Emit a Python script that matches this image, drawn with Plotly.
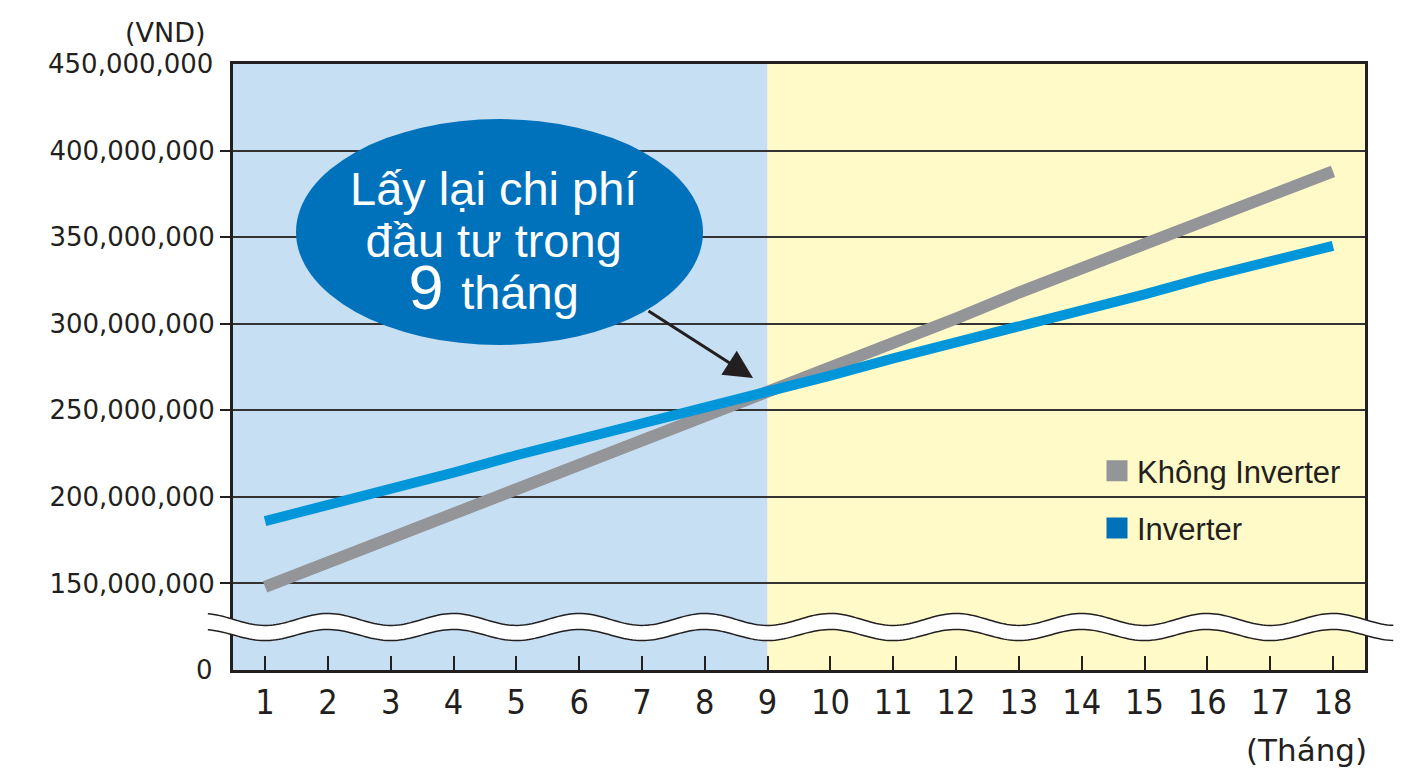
import numpy as np
import plotly.graph_objects as go

# ---------------- data ----------------
months = list(range(1, 19))
khong_inverter = [148e6, 162e6, 176e6, 191e6, 205e6, 219e6, 233e6, 247e6, 261e6,
                  275e6, 289e6, 303e6, 318e6, 332e6, 346e6, 360e6, 374e6, 388e6]
inverter = [186e6, 195e6, 205e6, 214e6, 224e6, 233e6, 242e6, 252e6, 261e6,
            270e6, 280e6, 289e6, 298e6, 308e6, 317e6, 327e6, 336e6, 345e6]
series_names = ["Không Inverter", "Inverter"]
y_tick_vals = [150e6, 200e6, 250e6, 300e6, 350e6, 400e6]
y_tick_text = ["150,000,000", "200,000,000", "250,000,000",
               "300,000,000", "350,000,000", "400,000,000"]
x_tick_text = [str(m) for m in months]
payback_month = 9

# ---------------- style ----------------
GRAY = "#939598"
BLUE_LINE = "#0096d9"
BLUE_DARK = "#0071bb"
BG_BLUE = "#c6dff3"
BG_YELLOW = "#fffac8"
INK = "#231f20"
XR = [0.49, 18.51]
YR = [100e6, 450e6]

# page body has an 8px margin, so the figure is 8px smaller than the window
OFF = 8
W, H = 1411 - OFF, 778 - OFF
ML, MR, MT, MB = 233 - OFF, 46, 64 - OFF, 108
PW, PH = W - ML - MR, H - MT - MB


def paper_x(px_):
    return (px_ - OFF - ML) / PW


def paper_y(py_):
    return (H - MB - (py_ - OFF)) / PH


fig = go.Figure()

fig.add_trace(go.Scatter(x=months, y=khong_inverter, mode="lines",
                         line=dict(color=GRAY, width=12), showlegend=False,
                         name=series_names[0], hoverinfo="skip"))
fig.add_trace(go.Scatter(x=months, y=inverter, mode="lines",
                         line=dict(color=BLUE_LINE, width=10), showlegend=False,
                         name=series_names[1], hoverinfo="skip"))
# legend entries (square swatches)
fig.add_trace(go.Scatter(x=[None], y=[None], mode="markers", name=series_names[0],
                         legendgroup="a",
                         marker=dict(symbol="square", size=16, color=GRAY,
                                     line=dict(color=GRAY, width=5))))
fig.add_trace(go.Scatter(x=[None], y=[None], mode="markers", name=series_names[1],
                         legendgroup="b",
                         marker=dict(symbol="square", size=16, color=BLUE_DARK,
                                     line=dict(color=BLUE_DARK, width=5))))

shapes = [
    dict(type="rect", xref="x", yref="paper", x0=XR[0], x1=payback_month, y0=0, y1=1,
         fillcolor=BG_BLUE, line=dict(width=0), layer="below"),
    dict(type="rect", xref="x", yref="paper", x0=payback_month, x1=XR[1], y0=0, y1=1,
         fillcolor=BG_YELLOW, line=dict(width=0), layer="below"),
    dict(type="circle", xref="x", yref="y", x0=1.493, x1=7.972, y0=287.7e6, y1=418.2e6,
         fillcolor=BLUE_DARK, line=dict(width=0), layer="above"),
]

# axis-break wave (decoration)
wm = np.linspace(0.09, 18.96, 400)


def mx(m):
    return (m - XR[0]) / (XR[1] - XR[0])


up = 129.2e6 + 3.45e6 * np.cos(np.pi * wm)
lo = 120.2e6 + 3.2e6 * np.cos(np.pi * wm)
up_pts = [f"{mx(a):.5f},{b:.0f}" for a, b in zip(wm, up)]
lo_pts = [f"{mx(a):.5f},{b:.0f}" for a, b in zip(wm, lo)]
band = "M" + " L".join(up_pts) + " L" + " L".join(lo_pts[::-1]) + " Z"
shapes.append(dict(type="path", xref="paper", yref="y", path=band,
                   fillcolor="white", line=dict(width=0), layer="above"))
shapes.append(dict(type="path", xref="paper", yref="y", path="M" + " L".join(up_pts),
                   line=dict(color=INK, width=1.5), layer="above"))
shapes.append(dict(type="path", xref="paper", yref="y", path="M" + " L".join(lo_pts),
                   line=dict(color=INK, width=1.5), layer="above"))

TXT = "Liberation Sans, Arial, sans-serif"
WIDE = "DejaVu Sans, Verdana, sans-serif"
callout = ("<span style='font-size:47px'>Lấy lại chi phí</span><br>"
           "<span style='font-size:47px'>đầu tư trong</span><br>"
           "<span style='font-size:63px'>9 </span><span style='font-size:47px'>tháng</span>")
annotations = [
    dict(text=callout, x=4.63, y=347.2e6, xref="x", yref="y", align="center",
         xanchor="center", yanchor="middle",
         showarrow=False, font=dict(family=TXT, size=40, color="white")),
    dict(text="", x=8.768, y=268.6e6, ax=7.08, ay=307.9e6, xref="x", yref="y",
         axref="x", ayref="y", showarrow=True, arrowhead=2, arrowsize=1.9,
         arrowwidth=3, arrowcolor=INK, standoff=0),
    dict(text="0", x=paper_x(215), y=YR[0], xref="paper", yref="y",
         xanchor="right", yanchor="middle", showarrow=False,
         font=dict(family=WIDE, size=26, color=INK)),
    dict(text="450,000,000", x=paper_x(215), y=YR[1], xref="paper", yref="y",
         xanchor="right", yanchor="middle", showarrow=False,
         font=dict(family=WIDE, size=26, color=INK)),
    dict(text="(VND)", x=paper_x(208), y=paper_y(32),
         xref="paper", yref="paper", xanchor="right", yanchor="middle", showarrow=False,
         font=dict(family=WIDE, size=27, color=INK)),
    dict(text="(Tháng)", x=paper_x(1306), y=paper_y(750),
         xref="paper", yref="paper", xanchor="center", yanchor="middle", showarrow=False,
         font=dict(family=WIDE, size=31, color=INK)),
]

fig.update_layout(
    width=W, height=H,
    margin=dict(l=ML, r=MR, t=MT, b=MB, pad=0),
    paper_bgcolor="white", plot_bgcolor="white",
    shapes=shapes, annotations=annotations,
    showlegend=True,
    legend=dict(x=paper_x(1097), y=paper_y(444),
                xanchor="left", yanchor="top", bgcolor="rgba(0,0,0,0)",
                font=dict(family=TXT, size=31, color=INK), tracegroupgap=14,
                itemsizing="trace"),
    xaxis=dict(range=XR, tickmode="array", tickvals=months, ticktext=x_tick_text,
               ticks="inside", ticklen=14, tickwidth=1.5, tickcolor=INK,
               showline=True, linewidth=3, linecolor=INK, mirror=True,
               showgrid=False, zeroline=False,
               tickfont=dict(family="Liberation Sans Narrow, DejaVu Sans Condensed, Arial Narrow, sans-serif",
                             size=34, color=INK)),
    yaxis=dict(range=YR, tickmode="array", tickvals=y_tick_vals, ticktext=y_tick_text,
               ticks="outside", ticklen=10, tickwidth=1.5, tickcolor=INK,
               showline=True, linewidth=3, linecolor=INK, mirror=True,
               showgrid=True, gridcolor="#333333", gridwidth=1.5, zeroline=False,
               ticklabelstandoff=0,
               tickfont=dict(family=WIDE, size=26, color=INK)),
)

fig.write_html("out.html")
